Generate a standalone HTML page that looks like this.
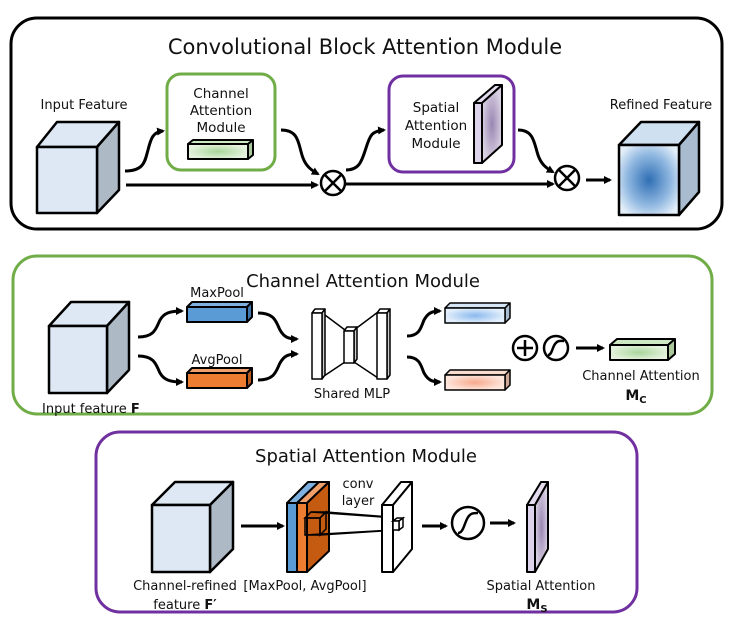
<!DOCTYPE html>
<html><head><meta charset="utf-8"><style>
body{margin:0;background:#fff}
svg{display:block}
text{font-family:"DejaVu Sans","Liberation Sans",sans-serif;fill:#111}
</style></head><body>
<svg width="732" height="630" viewBox="0 0 732 630" xmlns="http://www.w3.org/2000/svg">
<defs>
<marker id="ah" markerWidth="8" markerHeight="8" refX="6" refY="4" orient="auto" markerUnits="userSpaceOnUse">
<path d="M0,0 L8,4 L0,8 z" fill="#000"/></marker>
<radialGradient id="gG"><stop offset="0" stop-color="#a8d59a"/><stop offset="1" stop-color="#e4f2dd"/></radialGradient>
<radialGradient id="gP"><stop offset="0" stop-color="#9a7fb8"/><stop offset="1" stop-color="#e4dcee"/></radialGradient>
<radialGradient id="gP2"><stop offset="0" stop-color="#9a86b2"/><stop offset="1" stop-color="#d8d0e2"/></radialGradient>
<radialGradient id="gB" cx="0.5" cy="0.5" r="0.6"><stop offset="0" stop-color="#2f6fb4"/><stop offset="0.6" stop-color="#8fb7e0"/><stop offset="1" stop-color="#e3eef9"/></radialGradient>
<radialGradient id="gLB"><stop offset="0" stop-color="#8ab9ee"/><stop offset="1" stop-color="#e2eefb"/></radialGradient>
<radialGradient id="gLO"><stop offset="0" stop-color="#f6a88a"/><stop offset="1" stop-color="#fde6dc"/></radialGradient>
</defs>
<g stroke="#000" stroke-width="3" fill="none">
<rect x="11" y="18" width="711" height="211" rx="26"/>
</g>
<rect x="13" y="256" width="699" height="158" rx="24" stroke="#70ad47" stroke-width="3" fill="none"/>
<rect x="96" y="432" width="541" height="180" rx="24" stroke="#7030a0" stroke-width="3" fill="none"/>

<text x="365" y="54" font-size="21" text-anchor="middle">Convolutional Block Attention Module</text>
<text x="84" y="109" font-size="13" text-anchor="middle">Input Feature</text>
<text x="661" y="109" font-size="13" text-anchor="middle">Refined Feature</text>

<g stroke="#000" stroke-width="2.5" stroke-linejoin="round">
<polygon points="37,147 57,122 119,122 97,147" fill="#dde8f4"/>
<polygon points="97,147 119,122 119,190 97,213" fill="#aeb9c6"/>
<rect x="37" y="147" width="60" height="66" fill="#dde8f4"/>
</g>

<rect x="167" y="74" width="108" height="96" rx="14" stroke="#70ad47" stroke-width="3" fill="#fff"/>
<text x="221" y="98" font-size="13.5" text-anchor="middle">Channel</text>
<text x="221" y="115" font-size="13.5" text-anchor="middle">Attention</text>
<text x="221" y="132" font-size="13.5" text-anchor="middle">Module</text>
<g stroke="#000" stroke-width="2" stroke-linejoin="round">
<polygon points="188,144 193,140 253,140 248,144" fill="#cfe8c4"/>
<polygon points="248,144 253,140 253,155 248,159" fill="#aac89c"/>
<rect x="188" y="144" width="60" height="15" fill="url(#gG)"/>
</g>

<rect x="389" y="76" width="125" height="96" rx="14" stroke="#7030a0" stroke-width="3" fill="#fff"/>
<text x="436" y="112" font-size="13.5" text-anchor="middle">Spatial</text>
<text x="436" y="130" font-size="13.5" text-anchor="middle">Attention</text>
<text x="436" y="148" font-size="13.5" text-anchor="middle">Module</text>
<g stroke="#000" stroke-width="2" stroke-linejoin="round">
<polygon points="474,103 495,85 502,85 482,103" fill="#e4dcee"/>
<polygon points="482,103 502,85 502,145 482,163" fill="url(#gP2)"/>
<rect x="474" y="103" width="8" height="60" fill="#ddd3ea"/>
</g>

<g stroke="#000" stroke-width="2.5" stroke-linejoin="round">
<polygon points="619,145 641,122 699,122 679,145" fill="#cfe0f1"/>
<polygon points="679,145 699,122 699,192 679,215" fill="#a9bccf"/>
<rect x="619" y="145" width="60" height="70" fill="url(#gB)"/>
</g>

<g stroke="#000" stroke-width="3" fill="none" marker-end="url(#ah)">
<path d="M125,171 C145,171 145,160 148,150 C151,138 153,132 163,131"/>
<path d="M126,185 L317,185"/>
<path d="M281,130 C300,130 298,145 303,158 C306,166 311,170 318,174"/>
<path d="M346,170 C360,170 362,160 366,148 C370,135 372,131 384,130"/>
<path d="M346,184 L553,184"/>
<path d="M518,130 C534,130 534,143 538,155 C541,164 546,168 553,172"/>
<path d="M586,180 L610,180"/>
</g>
<g stroke="#000" stroke-width="2.5" fill="#fff">
<circle cx="333" cy="183" r="12"/>
<circle cx="567" cy="178" r="12"/>
</g>
<g stroke="#000" stroke-width="2.5">
<path d="M325,175 L341,191 M341,175 L325,191"/>
<path d="M559,170 L575,186 M575,170 L559,186"/>
</g>

<text x="363" y="287" font-size="18" text-anchor="middle">Channel Attention Module</text>
<g stroke="#000" stroke-width="2.5" stroke-linejoin="round">
<polygon points="49,326 71,302 129,302 107,326" fill="#dde8f4"/>
<polygon points="107,326 129,302 129,370 107,393" fill="#aeb9c6"/>
<rect x="49" y="326" width="58" height="67" fill="#dde8f4"/>
</g>
<text x="42" y="413" font-size="13">Input feature <tspan font-weight="bold">F</tspan></text>
<text x="217" y="297" font-size="13" text-anchor="middle">MaxPool</text>
<text x="217" y="364" font-size="13" text-anchor="middle">AvgPool</text>
<g stroke="#000" stroke-width="2" stroke-linejoin="round">
<polygon points="187,307 192,302 252,302 247,307" fill="#7fb1e0"/>
<polygon points="247,307 252,302 252,317 247,322" fill="#3f77ad"/>
<rect x="187" y="307" width="60" height="15" fill="#5b9bd5"/>
<polygon points="187,373 192,368 252,368 247,373" fill="#f2a06a"/>
<polygon points="247,373 252,368 252,383 247,388" fill="#b85a1e"/>
<rect x="187" y="373" width="60" height="15" fill="#ed7d31"/>
</g>
<g stroke="#000" stroke-width="3" fill="none" marker-end="url(#ah)">
<path d="M138,337 C155,337 156,328 160,320 C164,313 170,311 182,311"/>
<path d="M138,356 C155,356 156,365 160,373 C164,380 170,382 182,382"/>
<path d="M258,313 C275,313 276,322 280,330 C284,337 288,339 297,339"/>
<path d="M258,380 C275,380 276,371 280,363 C284,356 288,354 297,354"/>
<path d="M407,336 C420,336 421,327 424,320 C428,313 432,311 440,311"/>
<path d="M407,357 C420,357 421,366 424,373 C428,380 432,382 440,382"/>
<path d="M576,348 L603,348"/>
</g>
<g stroke="#000" stroke-width="1.5" fill="#fff" stroke-linejoin="round">
<line x1="321" y1="312" x2="345" y2="330"/><line x1="321" y1="378" x2="345" y2="362"/>
<line x1="354" y1="330" x2="378" y2="312"/><line x1="354" y1="362" x2="378" y2="378"/>
<polygon points="312,313 315,309 325,309 322,313"/>
<polygon points="322,313 325,309 325,375 322,379" fill="#ccc"/>
<rect x="312" y="313" width="10" height="66"/>
<polygon points="344,331 347,327 357,327 354,331"/>
<polygon points="354,331 357,327 357,359 354,363" fill="#ccc"/>
<rect x="344" y="331" width="10" height="32"/>
<polygon points="377,313 380,309 390,309 387,313"/>
<polygon points="387,313 390,309 390,375 387,379" fill="#ccc"/>
<rect x="377" y="313" width="10" height="66"/>
</g>
<text x="352" y="398" font-size="13" text-anchor="middle">Shared MLP</text>
<g stroke="#000" stroke-width="1.5" stroke-linejoin="round">
<polygon points="445,308 450,303 510,303 505,308" fill="#d6e5f6"/>
<polygon points="505,308 510,303 510,318 505,323" fill="#a9bcd0"/>
<rect x="445" y="308" width="60" height="15" fill="url(#gLB)"/>
<polygon points="445,375 450,370 510,370 505,375" fill="#f8dcd0"/>
<polygon points="505,375 510,370 510,385 505,390" fill="#cfa898"/>
<rect x="445" y="375" width="60" height="15" fill="url(#gLO)"/>
</g>
<g stroke="#000" stroke-width="2.5" fill="#fff">
<circle cx="525" cy="348" r="12"/>
<circle cx="556" cy="348" r="12"/>
</g>
<path d="M525,340 V356 M517,348 H533" stroke="#000" stroke-width="2.5"/>
<path d="M548,355 C552,355 552,348 555,344 C558,340 560,341 564,341" stroke="#000" stroke-width="2.5" fill="none"/>
<g stroke="#000" stroke-width="2" stroke-linejoin="round">
<polygon points="610,345 617,339 675,339 668,345" fill="#cfe8c4"/>
<polygon points="668,345 675,339 675,354 668,360" fill="#aac89c"/>
<rect x="610" y="345" width="58" height="15" fill="url(#gG)"/>
</g>
<text x="641" y="380" font-size="13" text-anchor="middle">Channel Attention</text>
<text x="636" y="400" font-size="14" font-weight="bold" text-anchor="middle">M<tspan font-size="10" dy="3">C</tspan></text>

<text x="366" y="462" font-size="18" text-anchor="middle">Spatial Attention Module</text>
<g stroke="#000" stroke-width="2.5" stroke-linejoin="round">
<polygon points="152,505 175,482 233,482 210,505" fill="#dde8f4"/>
<polygon points="210,505 233,482 233,549 210,572" fill="#aeb9c6"/>
<rect x="152" y="505" width="58" height="67" fill="#dde8f4"/>
</g>
<g stroke="#000" stroke-width="3" fill="none" marker-end="url(#ah)">
<path d="M241,526 L283,526"/>
<path d="M422,526 L446,526"/>
<path d="M490,523 L514,523"/>
</g>
<g stroke="#000" stroke-width="2" stroke-linejoin="round">
<polygon points="287,503 308,482 319,482 297,503" fill="#7fb1e0"/>
<rect x="287" y="503" width="10" height="69" fill="#5b9bd5"/>
<polygon points="297,503 319,482 329,482 307,503" fill="#f2a06a"/>
<polygon points="307,503 329,482 329,551 307,572" fill="#c55a11"/>
<rect x="297" y="503" width="10" height="69" fill="#ed7d31"/>
</g>
<g stroke="#000" stroke-width="1.5" fill="none">
<polygon points="305,518 311,512 326,512 320,518"/>
<polygon points="320,518 326,512 326,529 320,535"/>
<rect x="305" y="518" width="15" height="17"/>
<line x1="311" y1="512" x2="397" y2="518"/>
<line x1="326" y1="512" x2="403" y2="518"/>
<line x1="320" y1="535" x2="397" y2="530"/>
<line x1="305" y1="535" x2="393" y2="530"/>
</g>
<g stroke="#000" stroke-width="2" stroke-linejoin="round" fill="#fff">
<polygon points="382,505 401,482 412,482 393,505"/>
<polygon points="393,505 412,482 412,549 393,572"/>
<rect x="382" y="505" width="11" height="67"/>
</g>
<g stroke="#000" stroke-width="1.5" fill="#fff">
<polygon points="393,521 397,518 403,518 399,521"/>
<polygon points="399,521 403,518 403,527 399,530"/>
<rect x="393" y="521" width="6" height="9"/>
</g>
<text x="358" y="488" font-size="13" text-anchor="middle">conv</text>
<text x="358" y="505" font-size="13" text-anchor="middle">layer</text>
<circle cx="468" cy="523" r="16" stroke="#000" stroke-width="2.5" fill="#fff"/>
<path d="M458,533 C463,533 464,525 467,519 C470,513 473,513 478,513" stroke="#000" stroke-width="2.5" fill="none"/>
<g stroke="#000" stroke-width="2" stroke-linejoin="round">
<polygon points="527,505 541,482 548,482 535,505" fill="#e4dcee"/>
<polygon points="535,505 548,482 548,549 535,572" fill="url(#gP2)"/>
<rect x="527" y="505" width="8" height="67" fill="#ddd3ea"/>
</g>
<text x="185" y="590" font-size="13" text-anchor="middle">Channel-refined</text>
<text x="185" y="609" font-size="13" text-anchor="middle">feature <tspan font-weight="bold">F′</tspan></text>
<text x="305" y="590" font-size="13" text-anchor="middle">[MaxPool, AvgPool]</text>
<text x="541" y="590" font-size="13" text-anchor="middle">Spatial Attention</text>
<text x="537" y="609" font-size="14" font-weight="bold" text-anchor="middle">M<tspan font-size="10" dy="3">S</tspan></text>
</svg>
</body></html>
